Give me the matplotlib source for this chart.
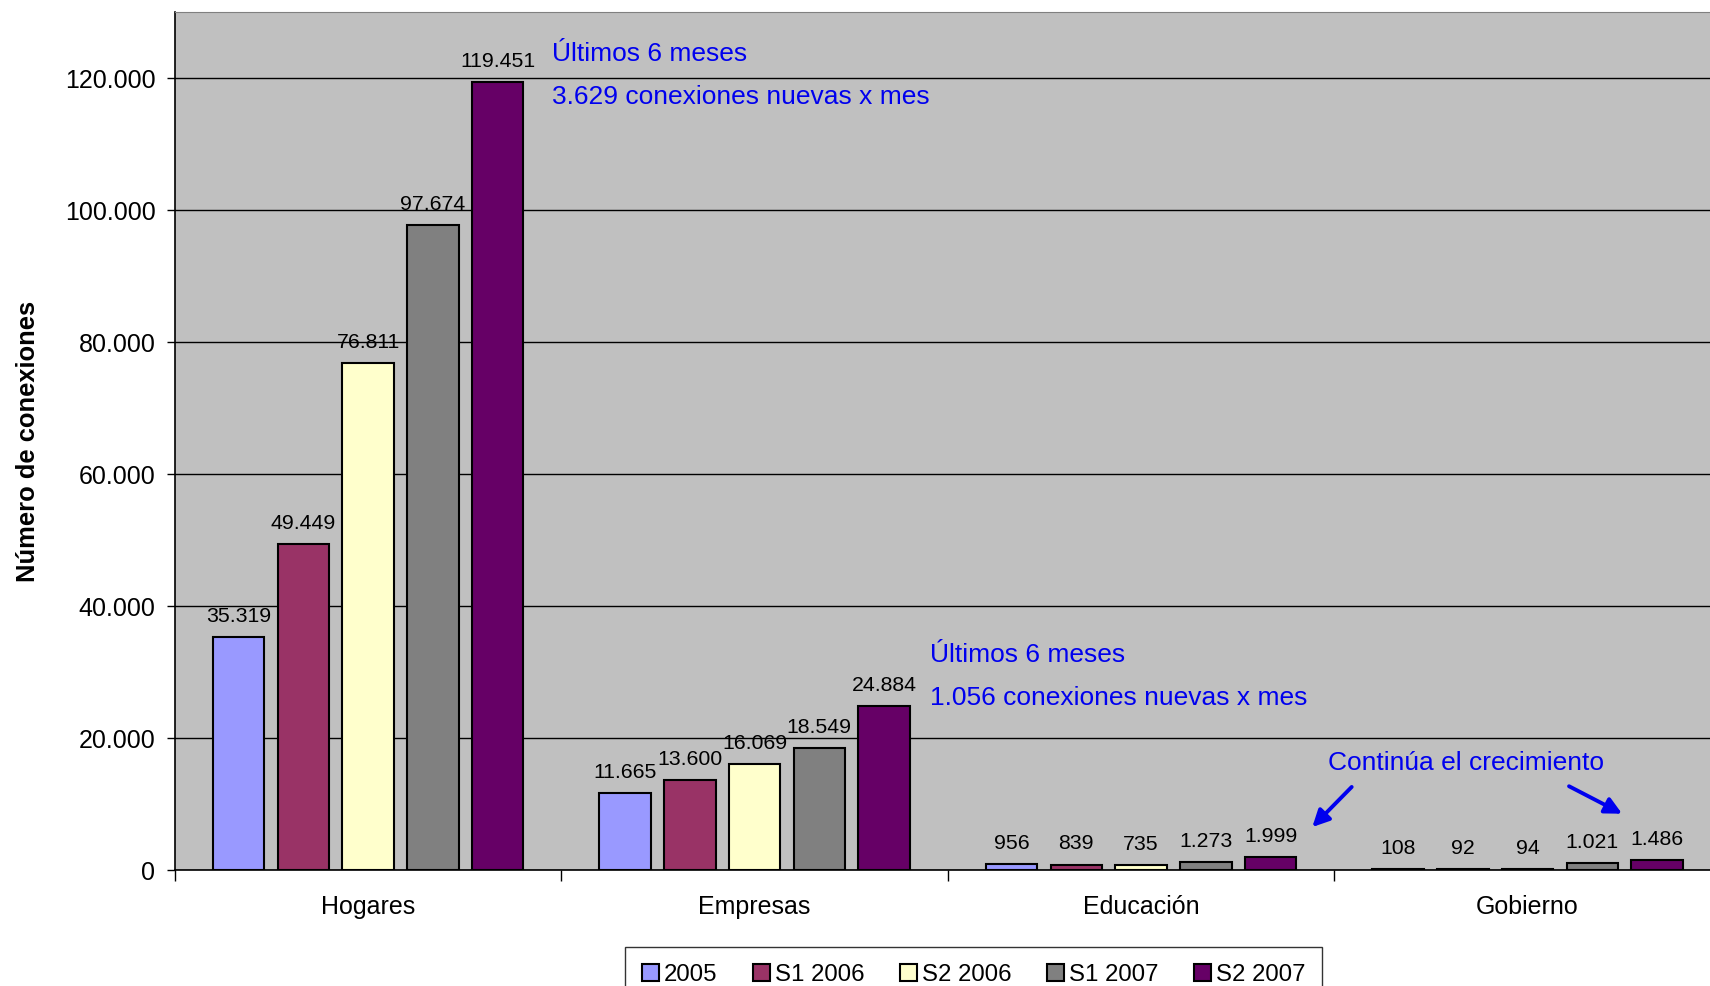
import matplotlib.pyplot as plt
import numpy as np

plt.rcParams["font.family"] = ["Liberation Sans", "DejaVu Sans"]

categories = ["Hogares", "Empresas", "Educación", "Gobierno"]
series = ["2005", "S1 2006", "S2 2006", "S1 2007", "S2 2007"]
v2005 = [35319, 11665, 956, 108]
v_s1_2006 = [49449, 13600, 839, 92]
v_s2_2006 = [76811, 16069, 735, 94]
v_s1_2007 = [97674, 18549, 1273, 1021]
v_s2_2007 = [119451, 24884, 1999, 1486]
values = [v2005, v_s1_2006, v_s2_2006, v_s1_2007, v_s2_2007]
colors = ["#9999FF", "#993366", "#FFFFCC", "#808080", "#660066"]


def fmt(v):
    return f"{v:,.0f}".replace(",", ".")


fig = plt.figure(figsize=(17.1, 9.86), dpi=100)
# plot area runs a little past the right edge of the image, as in the source
ax = fig.add_axes([0.1023, 0.1176, 0.904, 0.8702])
ax.set_facecolor("#C0C0C0")

x = np.arange(len(categories))
step, width = 0.1675, 0.133
for i, (name, vals, c) in enumerate(zip(series, values, colors)):
    pos = x + (i - 2) * step
    bars = ax.bar(pos, vals, width, color=c, edgecolor="black", linewidth=1.5,
                  label=name, zorder=3)
    for b, v in zip(bars, vals):
        ax.annotate(fmt(v), (b.get_x() + b.get_width() / 2, v),
                    xytext=(0, 8), textcoords="offset points",
                    ha="center", va="bottom", fontsize=15.3)

ax.set_xlim(-0.5, 3.5)
ax.set_ylim(0, 130000)
yt = np.arange(0, 120001, 20000)
ax.set_yticks(yt)
ax.set_yticklabels([fmt(t) for t in yt], fontsize=18)
ax.yaxis.grid(True, color="black", linewidth=1)
ax.set_axisbelow(True)
ax.tick_params(axis="y", length=6, width=1, pad=8)

ax.set_xticks(x)
ax.set_xticklabels(categories, fontsize=18)
ax.tick_params(axis="x", length=0, pad=18)
ax.set_xticks(np.arange(-0.5, 3.6, 1), minor=True)
ax.tick_params(axis="x", which="minor", length=8, width=1)

ax.spines["top"].set_color("#808080")
ax.spines["right"].set_visible(False)
ax.spines["left"].set_linewidth(1.2)
ax.spines["bottom"].set_linewidth(1.2)

ax.set_ylabel("Número de conexiones", fontsize=18.4, fontweight="bold", labelpad=18)

blue = "#0000EE"
ax.text(0.475, 123700, "Últimos 6 meses", color=blue, fontsize=19, va="center")
ax.text(0.475, 117100, "3.629 conexiones nuevas x mes", color=blue, fontsize=19, va="center")
ax.text(1.453, 32600, "Últimos 6 meses", color=blue, fontsize=19, va="center")
ax.text(1.453, 26000, "1.056 conexiones nuevas x mes", color=blue, fontsize=19, va="center")
ax.text(2.842, 16200, "Continúa el crecimiento", color=blue, fontsize=19,
        va="center", ha="center")
arrow = dict(arrowstyle="-|>,head_length=1.0,head_width=0.5", color=blue, lw=2.8)
ax.annotate("", xy=(2.438, 6216), xytext=(2.550, 12890), arrowprops=arrow)
ax.annotate("", xy=(3.251, 8340), xytext=(3.101, 12890), arrowprops=arrow)

leg = fig.legend(loc="upper left", bbox_to_anchor=(625 / 1710, 1 - 947 / 986),
                 borderaxespad=0, ncol=5, fontsize=17.3, frameon=True,
                 fancybox=False, edgecolor="black", handlelength=0.7,
                 handleheight=0.7, handletextpad=0.2, columnspacing=1.5,
                 borderpad=0.7)
leg.get_frame().set_linewidth(1)

fig.savefig("out.png", dpi=100)
